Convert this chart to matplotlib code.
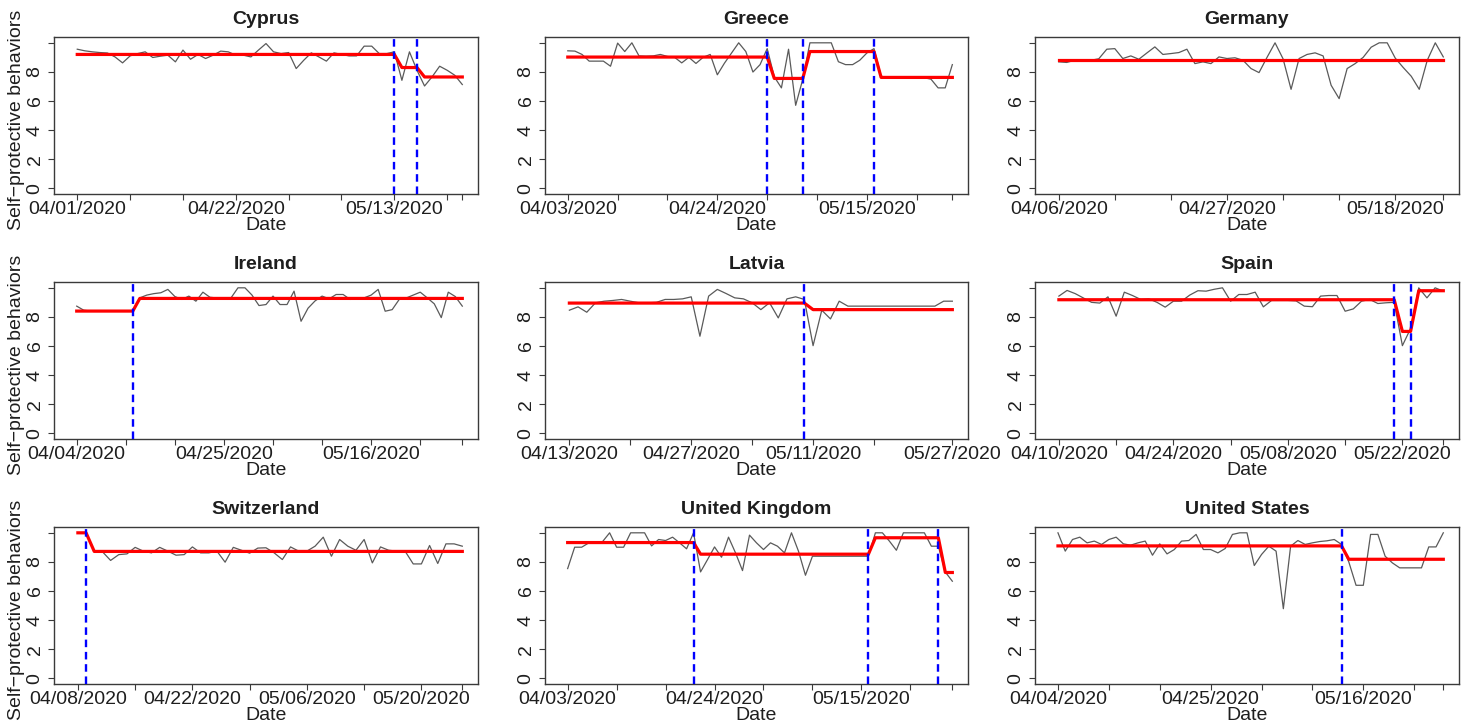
import numpy as np
import pandas as pd
import matplotlib
matplotlib.use("Agg")
import matplotlib.pyplot as plt

plt.rcParams['font.family'] = ['Liberation Sans', 'DejaVu Sans']

# ---------------- data ----------------
countries = ["Cyprus", "Greece", "Germany", "Ireland", "Latvia", "Spain",
             "Switzerland", "United Kingdom", "United States"]

start_dates = {
    "Cyprus": "2020-04-01", "Greece": "2020-04-03", "Germany": "2020-04-06",
    "Ireland": "2020-04-04", "Latvia": "2020-04-13", "Spain": "2020-04-10",
    "Switzerland": "2020-04-08", "United Kingdom": "2020-04-03",
    "United States": "2020-04-04",
}

cyprus_values = [9.56, 9.45, 9.38, 9.33, 9.30, 9.03, 8.62, 9.10, 9.26, 9.38,
                 8.99, 9.08, 9.15, 8.69, 9.50, 8.87, 9.20, 8.92, 9.15, 9.43,
                 9.38, 9.15, 9.15, 9.03, 9.50, 9.95, 9.38, 9.26, 9.33, 8.23,
                 8.80, 9.31, 9.03, 8.74, 9.31, 9.20, 9.10, 9.10, 9.77, 9.77,
                 9.26, 9.26, 9.38, 7.42, 9.38, 8.11, 7.03, 7.66, 8.39, 8.11,
                 7.77, 7.13]
greece_values = [9.45, 9.43, 9.20, 8.74, 8.74, 8.74, 8.39, 9.98, 9.40, 10.0,
                 9.10, 9.08, 9.10, 9.20, 9.06, 9.00, 8.62, 9.00, 8.58, 9.00,
                 9.20, 7.80, 8.60, 9.30, 10.0, 9.40, 7.99, 8.50, 9.60, 7.66,
                 6.90, 9.56, 5.70, 7.50, 10.0, 10.0, 10.0, 10.0, 8.70, 8.50,
                 8.50, 8.80, 9.30, 9.60, 7.70, 7.60, 7.60, 7.60, 7.60, 7.60,
                 7.60, 7.50, 6.90, 6.90, 8.50]
germany_values = [8.69, 8.65, 8.80, 8.80, 8.80, 8.90, 9.56, 9.60, 8.92, 9.10,
                  8.87, 9.30, 9.72, 9.20, 9.26, 9.33, 9.56, 8.57, 8.69, 8.57,
                  9.03, 8.92, 8.97, 8.80, 8.23, 7.95, 9.00, 10.0, 8.90, 6.80,
                  8.92, 9.20, 9.31, 9.10, 7.08, 6.16, 8.23, 8.57, 9.00, 9.70,
                  10.0, 10.0, 8.95, 8.30, 7.70, 6.80, 8.80, 10.0, 9.03]
ireland_values = [8.74, 8.46, 8.40, 8.40, 8.40, 8.40, 8.40, 8.40, 8.40, 9.31,
                  9.50, 9.60, 9.66, 9.89, 9.40, 9.20, 9.43, 9.08, 9.70, 9.35,
                  9.30, 9.30, 9.30, 10.0, 10.0, 9.50, 8.78, 8.85, 9.43, 8.85,
                  8.85, 9.77, 7.70, 8.60, 9.10, 9.43, 9.24, 9.54, 9.54, 9.20,
                  9.30, 9.31, 9.50, 9.89, 8.39, 8.50, 9.20, 9.30, 9.50, 9.70,
                  9.31, 8.90, 7.95, 9.70, 9.40, 8.74]
latvia_values = [8.46, 8.69, 8.32, 8.97, 9.08, 9.13, 9.20, 9.08, 8.97, 8.97,
                 9.00, 9.20, 9.20, 9.24, 9.38, 6.67, 9.43, 9.89, 9.61, 9.31,
                 9.24, 8.97, 8.50, 8.97, 7.93, 9.24, 9.38, 9.20, 6.02, 8.46,
                 7.86, 9.08, 8.74, 8.74, 8.74, 8.74, 8.74, 8.74, 8.74, 8.74,
                 8.74, 8.74, 8.74, 9.08, 9.08]
spain_values = [9.43, 9.82, 9.60, 9.30, 9.00, 8.95, 9.38, 8.05, 9.70, 9.47,
                9.20, 9.24, 9.00, 8.67, 9.08, 9.08, 9.50, 9.80, 9.77, 9.90,
                10.0, 9.08, 9.54, 9.54, 9.70, 8.69, 9.13, 9.13, 9.13, 9.10,
                8.74, 8.70, 9.43, 9.47, 9.47, 8.39, 8.55, 9.08, 9.20, 8.92,
                8.97, 9.00, 6.02, 7.20, 10.0, 9.31, 10.0, 9.77]
switzerland_values = [10.0, 10.0, 8.74, 8.70, 8.10, 8.50, 8.55, 9.00, 8.74, 8.62,
                      9.00, 8.74, 8.46, 8.50, 9.03, 8.62, 8.62, 8.74, 7.98, 9.00,
                      8.80, 8.60, 8.95, 8.97, 8.62, 8.16, 9.03, 8.74, 8.74, 9.08,
                      9.70, 8.39, 9.54, 9.08, 8.80, 9.54, 7.93, 9.03, 8.80, 8.74,
                      8.74, 7.86, 7.86, 9.13, 7.89, 9.24, 9.24, 9.08]
uk_values = [7.54, 9.01, 9.01, 9.30, 9.31, 9.40, 10.0, 9.01, 9.01, 10.0,
             10.0, 10.0, 9.10, 9.54, 9.47, 9.70, 9.31, 8.90, 10.0, 7.31,
             8.16, 9.03, 8.32, 9.70, 8.62, 7.40, 9.84, 9.31, 8.85, 9.31,
             9.08, 8.62, 10.0, 8.74, 7.08, 8.39, 8.39, 8.39, 8.39, 8.39,
             8.39, 8.39, 8.39, 8.39, 10.0, 10.0, 9.43, 8.80, 10.0, 10.0,
             10.0, 10.0, 9.08, 9.08, 7.30, 6.67]
us_values = [10.0, 8.74, 9.54, 9.70, 9.31, 9.43, 9.20, 9.54, 9.70, 9.24,
             9.15, 9.31, 9.43, 8.46, 9.24, 8.55, 8.85, 9.43, 9.47, 9.89,
             8.85, 8.85, 8.62, 8.92, 9.89, 10.0, 10.0, 7.75, 8.51, 9.08,
             8.74, 4.78, 9.08, 9.47, 9.20, 9.31, 9.40, 9.45, 9.54, 9.20,
             8.00, 6.39, 6.39, 9.89, 9.89, 8.39, 7.93, 7.59, 7.59, 7.59,
             7.59, 9.03, 9.03, 10.0]

values = {
    "Cyprus": cyprus_values, "Greece": greece_values, "Germany": germany_values,
    "Ireland": ireland_values, "Latvia": latvia_values, "Spain": spain_values,
    "Switzerland": switzerland_values, "United Kingdom": uk_values,
    "United States": us_values,
}

# breakpoints (last day of each regime) and regime levels
breakpoints = {
    "Cyprus": ["2020-05-13", "2020-05-16"],
    "Greece": ["2020-05-01", "2020-05-06", "2020-05-16"],
    "Germany": [],
    "Ireland": ["2020-04-12"],
    "Latvia": ["2020-05-10"],
    "Spain": ["2020-05-21", "2020-05-23"],
    "Switzerland": ["2020-04-09"],
    "United Kingdom": ["2020-04-21", "2020-05-16", "2020-05-26"],
    "United States": ["2020-05-13"],
}
levels = {
    "Cyprus": [9.2, 8.3, 7.65],
    "Greece": [9.02, 7.55, 9.4, 7.62],
    "Germany": [8.85],
    "Ireland": [8.4, 9.27],
    "Latvia": [8.95, 8.5],
    "Spain": [9.18, 7.0, 9.8],
    "Switzerland": [10.0, 8.72],
    "United Kingdom": [9.33, 8.53, 9.66, 7.27],
    "United States": [9.1, 8.18],
}

y_ticks = [0, 2, 4, 6, 8, 10]
y_tick_labels = ["0", "2", "4", "6", "8", ""]

# display settings for the date axis (label every k-th weekly tick)
label_every = {"Cyprus": 3, "Greece": 3, "Germany": 3, "Ireland": 3, "Latvia": 2,
               "Spain": 2, "Switzerland": 2, "United Kingdom": 3, "United States": 3}
label_last = {"Latvia": True}
skip_tick_near_end = {"Latvia": True}

# ---------------- figure ----------------
W, H = 1468, 728
fig = plt.figure(figsize=(W / 100, H / 100), dpi=100)

col_lr = [(54, 478), (545, 968), (1035, 1459)]
row_tb = [(37, 194), (282, 439), (527, 684)]

box_col = "#3a3a3a"
txt_col = "#1e1e1e"

for i, c in enumerate(countries):
    r, k = divmod(i, 3)
    l, rt = col_lr[k]
    t, b = row_tb[r]
    ax = fig.add_axes([l / W, 1 - b / H, (rt - l) / W, (b - t) / H])

    vals = np.array(values[c], dtype=float)
    n = len(vals)
    dates = pd.date_range(start_dates[c], periods=n, freq="D")
    bps = pd.to_datetime(breakpoints[c])
    seg = np.searchsorted(bps.values, dates.values, side="left")
    fitted = np.array(levels[c])[seg]

    ax.plot(dates, vals, color="#5a5a5a", lw=0.9, zorder=2)
    ax.plot(dates, fitted, color="#ff0000", lw=2.3, zorder=3, solid_joinstyle="round")
    for bp in bps:
        ax.axvline(bp, color="#0000ff", lw=1.7, ls=(0, (3.2, 2.0)), zorder=4)

    ext = 0.04 * n
    ax.set_xlim(dates[0] - pd.Timedelta(days=1 + ext), dates[-1] + pd.Timedelta(days=ext))
    ax.set_ylim(-0.4, 10.4)

    # x ticks: weekly from start plus the last day
    wk = list(range(0, n, 7))
    if skip_tick_near_end.get(c) and (n - 1 - wk[-1]) < 3:
        wk = wk[:-1]
    tick_idx = wk + ([n - 1] if wk[-1] != n - 1 else [])
    tick_lab = []
    for j, ti in enumerate(tick_idx):
        if ti == n - 1 and ti not in wk:
            tick_lab.append(dates[ti].strftime("%m/%d/%Y") if label_last.get(c) else "")
        else:
            tick_lab.append(dates[ti].strftime("%m/%d/%Y") if j % label_every[c] == 0 else "")
    ax.set_xticks([dates[ti] for ti in tick_idx])
    ax.set_xticklabels(tick_lab)
    ax.set_yticks(y_ticks)
    ax.set_yticklabels(y_tick_labels, rotation=90, va="center")

    ax.tick_params(axis="both", direction="out", length=4.5, width=0.8,
                   color=box_col, labelcolor=txt_col, labelsize=14)
    ax.tick_params(axis="x", pad=0.5)
    ax.tick_params(axis="y", pad=3)
    for s in ax.spines.values():
        s.set_color(box_col)
        s.set_linewidth(1.0)

    ax.set_title(c, fontsize=14, fontweight="bold", color=txt_col, pad=9)
    ax.set_xlabel("Date", fontsize=14, color=txt_col, labelpad=-1)
    if k == 0:
        ax.set_ylabel("Self\u2212protective behaviors", fontsize=14, color=txt_col)
        ax.yaxis.set_label_coords(-0.068, 0.47)

fig.savefig("out.png", dpi=100, facecolor="white")
